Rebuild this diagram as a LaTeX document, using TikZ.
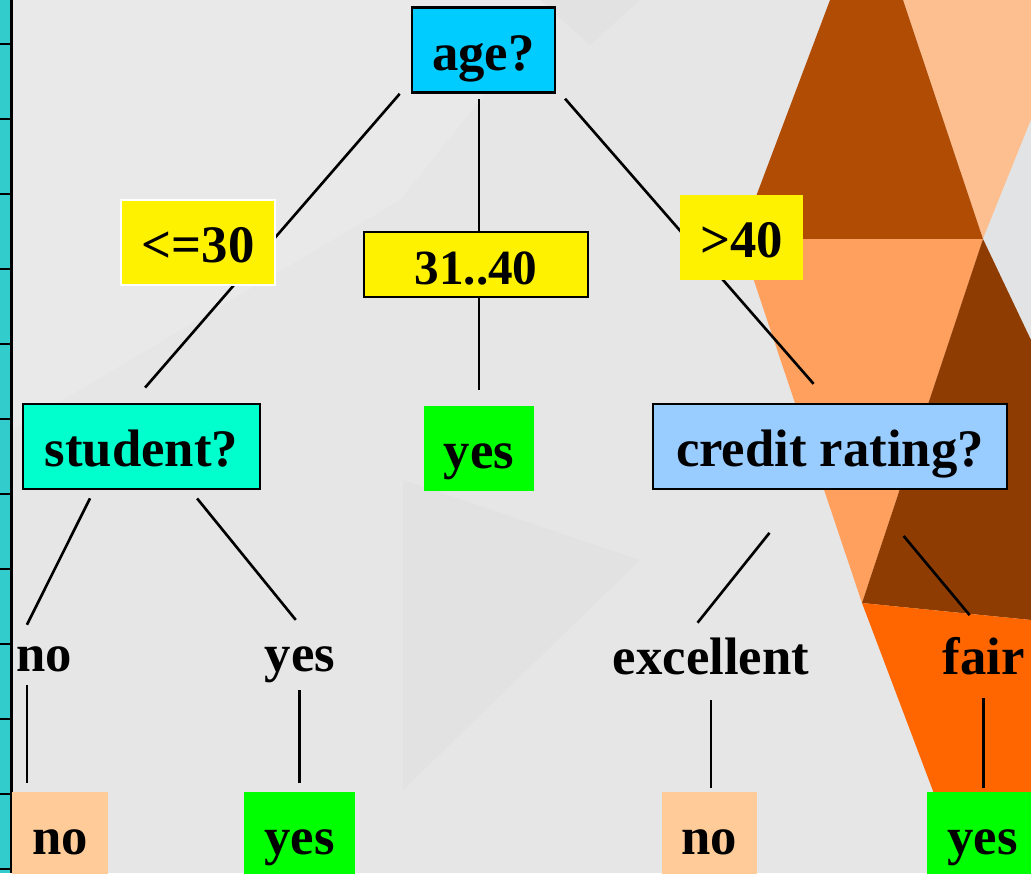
\documentclass[tikz,border=0pt]{standalone}
\usepackage{fontspec}
\setmainfont{Liberation Serif}
\usetikzlibrary{positioning}
\definecolor{qsky}{HTML}{00CCFF}
\definecolor{qaqua}{HTML}{00FFCC}
\definecolor{qcredit}{HTML}{99CCFF}
\definecolor{leafgreen}{HTML}{00FF00}
\definecolor{leafpeach}{HTML}{FFCC99}
\definecolor{stripteal}{HTML}{33CCCC}
\definecolor{bggrey}{HTML}{E6E6E6}
\definecolor{bglight}{HTML}{E9E9E9}
\definecolor{bgdark}{HTML}{E2E2E2}
\definecolor{peachtop}{HTML}{FDBF8F}
\definecolor{rust}{HTML}{B04C04}
\definecolor{orangemid}{HTML}{FFA05E}
\definecolor{brownlow}{HTML}{8E3C02}
\definecolor{orangehot}{HTML}{FF6600}
\definecolor{greyright}{HTML}{E1E3E5}
\def\tf{\fontsize{30}{36}\selectfont\bfseries}
\pgfdeclarelayer{back}
\pgfdeclarelayer{wires}
\pgfsetlayers{back,wires,main}

\begin{document}
\begin{tikzpicture}[x=0.02cm,y=-0.02cm,
        box/.style={draw=black,line width=1.5pt,inner sep=0pt,font=\tf,
            text height=0.9cm,text depth=0.1cm,minimum height=1.7cm},
        cond/.style={box,fill=yellow},
        leafyes/.style={box,draw=none,fill=leafgreen},
        leafno/.style={box,draw=none,fill=leafpeach},
        lbl/.style={inner sep=0pt,font=\tf,anchor=base,text height=0.48cm,text depth=0.22cm},
        wire/.style={line width=1.5pt}]
        \useasboundingbox (0,0) rectangle (1031,873);
    % tests
        \node[box,fill=qsky,minimum width=2.86cm] (age) at (483.5,50) {age?};
        \node[box,fill=qaqua,minimum width=4.74cm] (student) at (141.5,446.5) {student?};
        \node[box,fill=qcredit,minimum width=7.08cm] (credit) at (830,446.5) {credit rating?};
    % branches
        \node[cond,draw=white,minimum width=3.08cm] (le30) at (198,242.5) {<=30};
        \node[cond,minimum width=4.48cm,minimum height=1.3cm,
            font=\fontsize{28}{34}\selectfont\bfseries] (r3140) at (476,264.5) {31..40};
        \node[cond,draw=none,minimum width=2.46cm] (gt40) at (741.5,237.5) {>40};
        \node[lbl] (nolbl) at (44.5,671) {no};
        \node[lbl] (yeslbl) at (300,671) {yes};
        \node[lbl] (exclbl) at (711,674) {excellent};
        \node[lbl] (fairlbl) at (983.5,674) {fair};
    % leaves
        \node[leafyes,minimum width=2.2cm] (yesmid) at (479,448) {yes};
        \node[leafno,minimum width=1.92cm] (noleft) at (60,834) {no};
        \node[leafyes,minimum width=2.22cm] (yesleft) at (299.5,834) {yes};
        \node[leafno,minimum width=1.9cm] (noright) at (709.5,834) {no};
        \node[leafyes,minimum width=2.22cm] (yesright) at (982.5,834) {yes};

        \begin{pgfonlayer}{wires}
        \draw[wire,shorten >=0.4cm] ([xshift=-0.22cm]age.south west) -- ([xshift=-0.19cm]student.north);
        \draw[wire,shorten <=0.1cm,shorten >=0.28cm] (yesmid.north |- age.south) -- (yesmid.north);
        \draw[wire,shorten <=0.13cm,shorten >=0.5cm] ([xshift=0.09cm]age.south east) -- (credit.north);
        \draw[wire,shorten <=0.18cm,shorten >=0.49cm] ([xshift=-0.95cm]student.south) -- ([xshift=-0.57cm]nolbl.north);
        \draw[wire,shorten <=0.21cm,shorten >=0.69cm] ([xshift=0.98cm]student.south) -- ([xshift=0.35cm]yeslbl.north);
        \draw[wire,shorten <=1.09cm,shorten >=0.69cm] ([xshift=-0.53cm]credit.south) -- ([xshift=-0.7cm]exclbl.north);
        \draw[wire,shorten <=1.19cm,shorten >=0.9cm] ([xshift=0.71cm]credit.south) -- ([xshift=0.3cm]fairlbl.north);
        \draw[wire,shorten <=0.06cm,shorten >=0.14cm] ([xshift=-0.66cm]noleft.north |- nolbl.south) -- ([xshift=-0.66cm]noleft.north);
        \draw[wire,shorten <=0.16cm,shorten >=0.14cm] (yesleft.north |- yeslbl.south) -- (yesleft.north);
        \draw[wire,shorten <=0.3cm,shorten >=0.04cm] (exclbl.south) -- (exclbl.south |- noright.north);
        \draw[wire,shorten <=0.26cm,shorten >=0.04cm] (fairlbl.south) -- (fairlbl.south |- yesright.north);
        \end{pgfonlayer}

        \begin{pgfonlayer}{back}
        \fill[bggrey] (0,0) rectangle (1031,873);
        \fill[bglight] (12,0) -- (560,0) -- (400,200) -- (12,430) -- cycle;
        \fill[bgdark] (403,480) -- (640,560) -- (403,790) -- cycle;
        \fill[bgdark] (540,0) -- (640,0) -- (590,45) -- cycle;
    % orange facets
        \fill[peachtop] (903,0) -- (1031,0) -- (1031,120) -- (983,239) -- cycle;
        \fill[greyright] (1031,120) -- (983,239) -- (1031,340) -- cycle;
        \fill[rust] (830,0) -- (903,0) -- (983,239) -- (740,239) -- cycle;
        \fill[orangemid] (740,239) -- (983,239) -- (862,603) -- cycle;
        \fill[brownlow] (983,239) -- (1031,340) -- (1031,620) -- (862,603) -- cycle;
        \fill[orangehot] (862,603) -- (1031,620) -- (1031,873) -- (964,873) -- cycle;
    % side strip
        \fill[stripteal] (0,0) rectangle (10,873);
        \draw[line width=1.7pt] (11.5,0) -- (11.5,873);
        \foreach \y in {44,119,...,869}
            \draw[line width=1.2pt] (0,\y) -- (10,\y);
        \end{pgfonlayer}
      \end{tikzpicture}
\end{document}
